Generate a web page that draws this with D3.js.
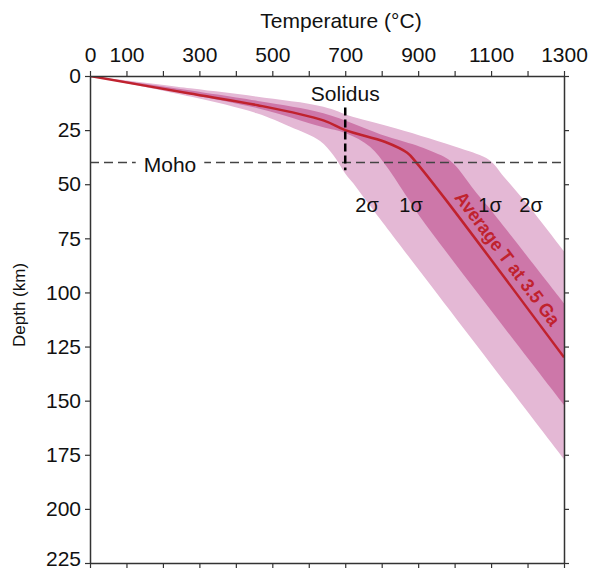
<!DOCTYPE html>
<html>
<head>
<meta charset="utf-8">
<script src="https://cdn.jsdelivr.net/npm/d3@7"></script>
<style>
  body { margin: 0; background: #fff; }
  svg text { font-family: "Liberation Sans", Arial, sans-serif; fill: #111; }
</style>
</head>
<body>
<svg width="590" height="571"></svg>
<script>
// tick labels on the top axis
var tempLabels = [0, 100, 300, 500, 700, 900, 1100, 1300];
var depthTicks = [0, 25, 50, 75, 100, 125, 150, 175, 200, 225];

// average geotherm at 3.5 Ga  [T (°C), depth (km)]
var avgLine = [[0,0],[270,8],[460,13.5],[640,20.5],[700,25],[810,30.5],[870,35.5],[895,40],[975,57],[1300,130]];

// 1 sigma band edges
var sig1Hot  = [[0,0],[460,11.5],[640,17.2],[815,28],[905,32.7],[978,38],[1000,41],[1060,54],[1090,60],[1300,105]];
var sig1Cold = [[0,0],[460,14.9],[635,23.5],[702,26.5],[768,32.7],[814,41.9],[869,55.8],[905,65],[1300,152]];

// 2 sigma band edges
var sig2Hot  = [[0,0],[275,5.7],[455,9.5],[640,14.2],[720,18.8],[840,24.2],[1015,33.4],[1095,38.8],[1135,46.5],[1190,57.3],[1300,81]];
var sig2Cold = [[0,0],[275,9.5],[457,17.2],[549,23.4],[631,30],[667,36.5],[700,45],[722,49.6],[768,60],[1300,177]];

var mohoDepth = 40;
var solidusT = 700, solidusTop = 14.5, solidusBottom = 43.5;

var svg = d3.select("svg");
var pL = 90, pR = 564, pT = 76, pB = 563;

var x = d3.scaleLinear().domain([0, 1300]).range([pL, pR]);
var y = d3.scaleLinear().domain([0, 225]).range([pT, pB]);

svg.append("clipPath").attr("id", "plot")
    .append("rect").attr("x", pL).attr("y", pT)
    .attr("width", pR - pL).attr("height", pB - pT);

var line = d3.line().x(d => x(d[0])).y(d => y(d[1])).curve(d3.curveCatmullRom.alpha(0.5));
var band = function(hot, cold) {
    return line(hot) + line(cold.slice().reverse()).replace(/^M/, "L") + "Z";
};

var g = svg.append("g").attr("clip-path", "url(#plot)");
g.append("path").attr("d", band(sig2Hot, sig2Cold)).attr("fill", "#e4b8d5");
g.append("path").attr("d", band(sig1Hot, sig1Cold)).attr("fill", "#cd77a9");
g.append("path").attr("d", line(avgLine))
    .attr("fill", "none").attr("stroke", "#c0222e").attr("stroke-width", 2.5);

// Moho
var moho = svg.append("g");
moho.append("line")
    .attr("x1", x(0)).attr("x2", x(1300))
    .attr("y1", y(mohoDepth)).attr("y2", y(mohoDepth))
    .attr("stroke", "#444").attr("stroke-width", 1.5).attr("stroke-dasharray", "9,5");
var mohoText = moho.append("text")
    .attr("x", 170).attr("y", y(mohoDepth) + 9)
    .attr("text-anchor", "middle").style("font-size", "21px").text("Moho");
var bb = mohoText.node().getBBox();
moho.insert("rect", "text")
    .attr("x", bb.x - 8).attr("y", y(mohoDepth) - 3)
    .attr("width", bb.width + 16).attr("height", 6).attr("fill", "#fff");

// Solidus
svg.append("line")
    .attr("x1", x(solidusT)).attr("x2", x(solidusT))
    .attr("y1", y(solidusTop)).attr("y2", y(solidusBottom))
    .attr("stroke", "#000").attr("stroke-width", 2.5).attr("stroke-dasharray", "8,4");
svg.append("text").attr("x", x(solidusT)).attr("y", 101)
    .attr("text-anchor", "middle").style("font-size", "21px").text("Solidus");

// sigma labels
var sigLabels = [["2σ", 367], ["1σ", 411], ["1σ", 490], ["2σ", 531]];
svg.selectAll(".sig").data(sigLabels).enter().append("text")
    .attr("x", d => d[1]).attr("y", 212)
    .attr("text-anchor", "middle").style("font-size", "20px")
    .text(d => d[0]);

// label along the average line
var p0 = avgLine[8], p1 = avgLine[9];
var ang = Math.atan2(y(p1[1]) - y(p0[1]), x(p1[0]) - x(p0[0])) * 180 / Math.PI;
svg.append("text")
    .attr("transform", "translate(" + (x(1120) + 4) + "," + (y(88) - 4) + ") rotate(" + ang + ")")
    .attr("text-anchor", "middle")
    .attr("textLength", 162).attr("lengthAdjust", "spacingAndGlyphs")
    .style("font-size", "19px").style("font-weight", "bold")
    .style("fill", "#c0222e")
    .text("Average T at 3.5 Ga");

// axes
var axStyle = function(sel) {
    sel.select(".domain").attr("stroke", "#333").attr("stroke-width", 1.5);
    sel.selectAll(".tick line").attr("stroke", "#333").attr("stroke-width", 1.2);
    sel.selectAll("text").style("font-size", "21px").style("font-family", "Liberation Sans, Arial, sans-serif").attr("fill", "#111");
};

svg.append("g").attr("transform", "translate(0," + pT + ")")
    .call(d3.axisTop(x).tickValues(d3.range(0, 1301, 100)).tickSize(5).tickPadding(9).tickSizeOuter(0)
        .tickFormat(d => tempLabels.indexOf(d) >= 0 ? d : ""))
    .call(axStyle);

svg.append("g").attr("transform", "translate(0," + pB + ")")
    .call(d3.axisBottom(x).tickValues(d3.range(0, 1301, 100)).tickSize(5).tickSizeOuter(0).tickFormat(""))
    .call(axStyle);

var yAx = svg.append("g").attr("transform", "translate(" + pL + ",0)")
    .call(d3.axisLeft(y).tickValues(depthTicks).tickSize(5).tickPadding(4).tickSizeOuter(0))
    .call(axStyle);
yAx.selectAll(".tick text").filter(d => d === 225).attr("dy", "0.1em");

svg.append("g").attr("transform", "translate(" + pR + ",0)")
    .call(d3.axisRight(y).tickValues(depthTicks).tickSize(5).tickSizeOuter(0).tickFormat(""))
    .call(axStyle);

svg.append("text").attr("x", 341).attr("y", 28)
    .attr("text-anchor", "middle").style("font-size", "21px").text("Temperature (°C)");

svg.append("text").attr("transform", "translate(25,305) rotate(-90)")
    .attr("text-anchor", "middle").style("font-size", "17px").text("Depth (km)");
</script>
</body>
</html>
